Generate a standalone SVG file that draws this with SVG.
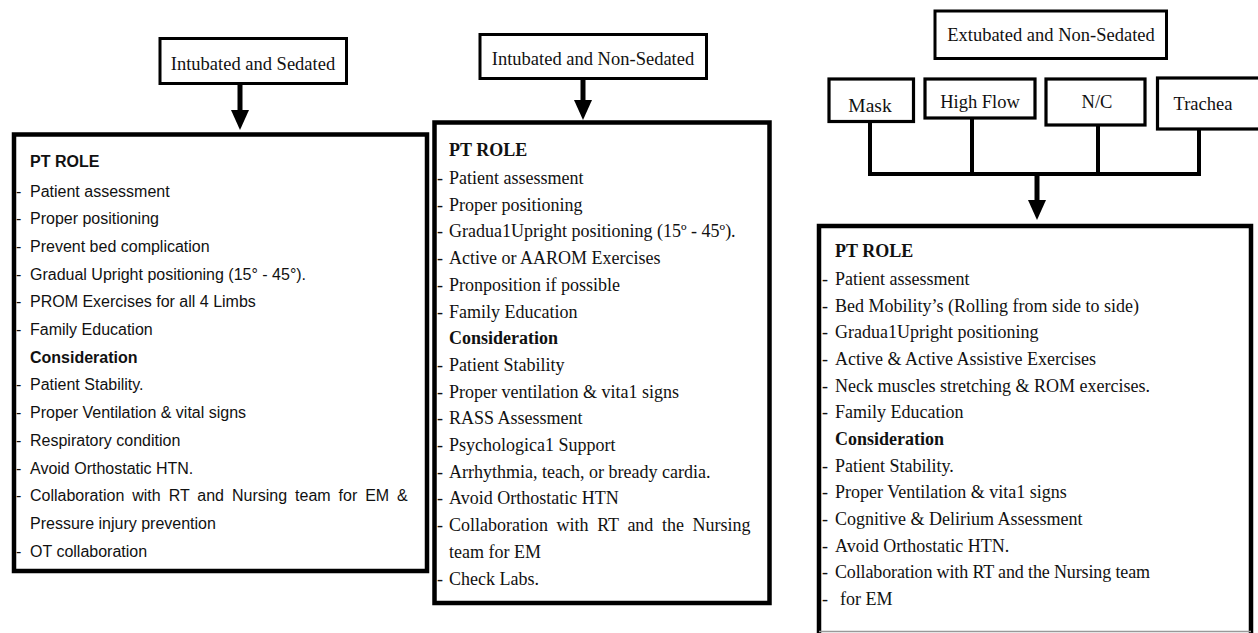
<svg xmlns="http://www.w3.org/2000/svg" width="1258" height="633" viewBox="0 0 1258 633">
<defs>
<style>
.bg{fill:#fff}
.hbox{fill:#fff;stroke:#000;stroke-width:3}
.sbox{fill:#fff;stroke:#000;stroke-width:3.2}
.bbox{fill:#fff;stroke:#000;stroke-width:4.5}
.conn{fill:none;stroke:#000;stroke-width:4}
.shaft{fill:none;stroke:#000;stroke-width:5}
.sans{font-family:"Liberation Sans",Arial,sans-serif;font-size:16px;fill:#111}
.serif{font-family:"Liberation Serif","Times New Roman",serif;font-size:18px;fill:#111}
.hdr{font-family:"Liberation Serif","Times New Roman",serif;font-size:18.5px;fill:#111;text-anchor:middle}
.b{font-weight:bold}
</style>
<marker id="ah" viewBox="0 0 20 18" refX="0" refY="9" markerWidth="20" markerHeight="18" markerUnits="userSpaceOnUse" orient="auto">
<path d="M0,0 L20,9 L0,18 Z" fill="#000"/>
</marker>
</defs>
<rect class="bg" x="0" y="0" width="1258" height="633"/>

<g id="connectors">
<line class="shaft" x1="240" y1="85" x2="240" y2="110" marker-end="url(#ah)"/>
<line class="shaft" x1="583" y1="80" x2="583" y2="100" marker-end="url(#ah)"/>
<path class="conn" d="M870,121.5 V174 H1199 V129 M972,118 V174 M1098,125 V174"/>
<line class="shaft" x1="1037" y1="176" x2="1037" y2="200" marker-end="url(#ah)"/>
</g>

<g id="node-intubated-sedated">
<rect class="hbox" x="160" y="38.5" width="186.5" height="45"/>
<text class="hdr" x="253" y="70">Intubated and Sedated</text>
</g>

<g id="node-intubated-nonsedated">
<rect class="hbox" x="480" y="34.5" width="226.5" height="44"/>
<text class="hdr" x="593" y="65">Intubated and Non-Sedated</text>
</g>

<g id="node-extubated-nonsedated">
<rect class="hbox" x="935" y="11" width="231.5" height="47.5"/>
<text class="hdr" x="1051" y="41">Extubated and Non-Sedated</text>
</g>

<g id="node-mask">
<rect class="sbox" x="829" y="79" width="84.5" height="42.5"/>
<text class="hdr" x="870" y="112" style="font-size:19.5px">Mask</text>
</g>
<g id="node-highflow">
<rect class="sbox" x="925" y="79" width="110" height="39"/>
<text class="hdr" x="980" y="108">High Flow</text>
</g>
<g id="node-nc">
<rect class="sbox" x="1046" y="79" width="99" height="46"/>
<text class="hdr" x="1097" y="108">N/C</text>
</g>
<g id="node-trachea">
<rect class="sbox" x="1157.5" y="78" width="110" height="51"/>
<text class="hdr" x="1203" y="110">Trachea</text>
</g>

<g id="node-left-box">
<rect class="bbox" x="14" y="134.5" width="413" height="436.5"/>
<g class="sans">
<text class="b" x="30" y="167">PT ROLE</text>
<text x="16" y="196.5">-</text><text x="30" y="196.5">Patient assessment</text>
<text x="16" y="224">-</text><text x="30" y="224">Proper positioning</text>
<text x="16" y="252">-</text><text x="30" y="252">Prevent bed complication</text>
<text x="16" y="279.5">-</text><text x="30" y="279.5">Gradual Upright positioning (15° - 45°).</text>
<text x="16" y="307">-</text><text x="30" y="307">PROM Exercises for all 4 Limbs</text>
<text x="16" y="335">-</text><text x="30" y="335">Family Education</text>
<text class="b" x="30" y="362.5">Consideration</text>
<text x="16" y="390">-</text><text x="30" y="390">Patient Stability.</text>
<text x="16" y="418">-</text><text x="30" y="418">Proper Ventilation &amp; vital signs</text>
<text x="16" y="445.5">-</text><text x="30" y="445.5">Respiratory condition</text>
<text x="16" y="473.5">-</text><text x="30" y="473.5">Avoid Orthostatic HTN.</text>
<text x="16" y="501">-</text><text x="30" y="501" word-spacing="3.5">Collaboration with RT and Nursing team for EM &amp;</text>
<text x="30" y="529">Pressure injury prevention</text>
<text x="16" y="556.5">-</text><text x="30" y="556.5">OT collaboration</text>
</g>
</g>

<g id="node-middle-box">
<rect class="bbox" x="434.5" y="122.5" width="335" height="480.5"/>
<g class="serif">
<text class="b" x="449" y="156">PT ROLE</text>
<text x="437" y="184">-</text><text x="449" y="184">Patient assessment</text>
<text x="437" y="210.7">-</text><text x="449" y="210.7">Proper positioning</text>
<text x="437" y="237.4">-</text><text x="449" y="237.4">Gradua1Upright positioning (15º - 45º).</text>
<text x="437" y="264.1">-</text><text x="449" y="264.1">Active or AAROM Exercises</text>
<text x="437" y="290.8">-</text><text x="449" y="290.8">Pronposition if possible</text>
<text x="437" y="317.5">-</text><text x="449" y="317.5">Family Education</text>
<text class="b" x="449" y="344.2">Consideration</text>
<text x="437" y="370.9">-</text><text x="449" y="370.9">Patient Stability</text>
<text x="437" y="397.6">-</text><text x="449" y="397.6">Proper ventilation &amp; vita1 signs</text>
<text x="437" y="424.3">-</text><text x="449" y="424.3">RASS Assessment</text>
<text x="437" y="451">-</text><text x="449" y="451">Psychologica1 Support</text>
<text x="437" y="477.7">-</text><text x="449" y="477.7">Arrhythmia, teach, or bready cardia.</text>
<text x="437" y="504.4">-</text><text x="449" y="504.4">Avoid Orthostatic HTN</text>
<text x="437" y="531.1">-</text><text x="449" y="531.1" word-spacing="4.1">Collaboration with RT and the Nursing</text>
<text x="449" y="557.8">team for EM</text>
<text x="437" y="584.5">-</text><text x="449" y="584.5">Check Labs.</text>
</g>
</g>

<g id="node-right-box">
<path class="bbox" d="M819,640 V226 H1251 V640"/>
<line x1="819" y1="631.5" x2="1251" y2="631.5" stroke="#999" stroke-width="1.5"/>
<g class="serif">
<text class="b" x="835" y="257">PT ROLE</text>
<text x="822" y="285">-</text><text x="835" y="285">Patient assessment</text>
<text x="822" y="311.7">-</text><text x="835" y="311.7">Bed Mobility’s (Rolling from side to side)</text>
<text x="822" y="338.3">-</text><text x="835" y="338.3">Gradua1Upright positioning</text>
<text x="822" y="365">-</text><text x="835" y="365">Active &amp; Active Assistive Exercises</text>
<text x="822" y="391.7">-</text><text x="835" y="391.7">Neck muscles stretching &amp; ROM exercises.</text>
<text x="822" y="418.3">-</text><text x="835" y="418.3">Family Education</text>
<text class="b" x="835" y="445">Consideration</text>
<text x="822" y="471.7">-</text><text x="835" y="471.7">Patient Stability.</text>
<text x="822" y="498.3">-</text><text x="835" y="498.3">Proper Ventilation &amp; vita1 signs</text>
<text x="822" y="525">-</text><text x="835" y="525">Cognitive &amp; Delirium Assessment</text>
<text x="822" y="551.7">-</text><text x="835" y="551.7">Avoid Orthostatic HTN.</text>
<text x="822" y="578.3">-</text><text x="835" y="578.3" textLength="315" lengthAdjust="spacing">Collaboration with RT and the Nursing team</text>
<text x="822" y="605">-</text><text x="840" y="605">for EM</text>
</g>
</g>
</svg>
